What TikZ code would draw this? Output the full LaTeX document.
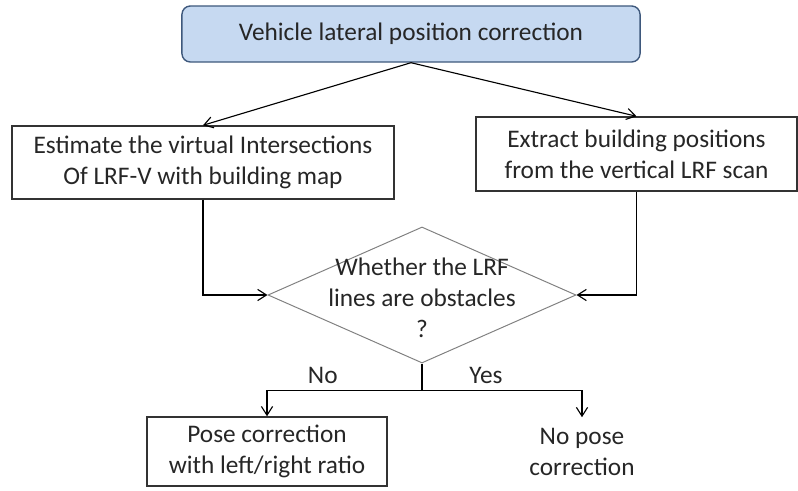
\documentclass[tikz,border=0pt]{standalone}
\usepackage{fontspec}
\setmainfont{Carlito}
\usepackage{tikz}
\usetikzlibrary{positioning, arrows.meta, shapes.geometric, calc}
\definecolor{headfill}{RGB}{198,217,241}
\definecolor{headline}{RGB}{62,88,124}
\definecolor{txt}{RGB}{38,38,38}

\begin{document}
\begin{tikzpicture}[x=0.025cm, y=-0.025cm,
  font=\fontsize{18}{22}\selectfont, text=txt,
  box/.style={draw=black!80, line width=1pt, align=center, inner sep=2pt},
  plain/.style={align=center, inner sep=2pt},
  decision/.style={diamond, draw=black!50, line width=0.7pt,
                   inner sep=0pt, minimum width=7.7cm, minimum height=3.4cm},
  >={Straight Barb[length=2.2mm, width=2.8mm]}]
  \useasboundingbox (0,0) rectangle (798,491);
  \node[box, draw=headline, fill=headfill, rounded corners=6pt,
        minimum width=11.45cm, minimum height=1.4cm] (head) at (411,34)
        {Vehicle lateral position correction};
  \node[box, minimum width=9.55cm, minimum height=1.825cm] (inter) at (203,162.5)
        {Estimate the virtual Intersections\\Of LRF-V with building map};
  \node[box, minimum width=8.025cm, minimum height=1.85cm] (extract) at (636.5,154)
        {Extract building positions\\from the vertical LRF scan};
  \node[decision, label={[align=center, yshift=-2pt]center:Whether the LRF\\lines are obstacles\\?}]
        (obst) at (422,295) {};
  \node[box, minimum width=6cm, minimum height=1.725cm] (pose) at (267,451.5)
        {Pose correction\\with left/right ratio};
  \node[plain, minimum width=5cm, minimum height=1.725cm] (nopose) at (582,452)
        {No pose\\correction};
  % branches from the task
  \draw[->,thick] (head.south) -- (inter.north);
  \draw[->,thick] (head.south) -- (extract.north);
  \draw[->,thick] (inter.south) |- (obst.west);
  \draw[->,thick] (extract.south) |- (obst.east);
  % decision outcome
  \coordinate (split) at ($(obst.south)+(0,27)$);
  \draw[thick] (obst.south) -- (split);
  \draw[->,thick] (split) -| node[pos=0.32, above=1pt] {No} (pose.north);
  \draw[->,thick] (split) -| node[pos=0.2, above=1pt] {Yes} (nopose.north);
\end{tikzpicture}
\end{document}
